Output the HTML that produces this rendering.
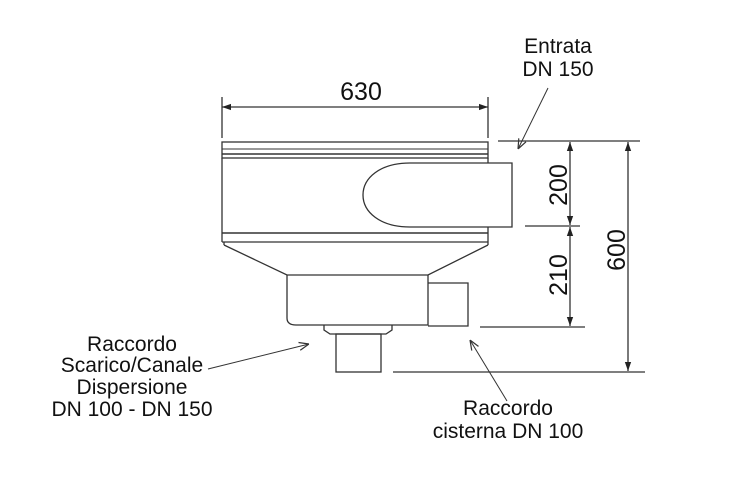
<!DOCTYPE html>
<html><head><meta charset="utf-8"><style>
html,body{margin:0;padding:0;background:#fff;}
svg{display:block;}
text{font-family:"Liberation Sans",Arial,sans-serif;fill:#111;}
</style></head><body>
<svg width="732" height="477" viewBox="0 0 732 477" xmlns="http://www.w3.org/2000/svg">
<defs>
<marker id="ah" viewBox="0 0 10 10" refX="10" refY="5" markerWidth="9" markerHeight="9" orient="auto-start-reverse" markerUnits="userSpaceOnUse"><path d="M0,1.5 L10,5 L0,8.5 Z" fill="#222"/></marker>
<marker id="oa" viewBox="0 0 10 10" refX="10" refY="5" markerWidth="10" markerHeight="10" orient="auto" markerUnits="userSpaceOnUse"><path d="M0,1 L10,5 L0,9" fill="none" stroke="#333" stroke-width="1.2"/></marker>
</defs>
<g stroke="#333" stroke-width="1.3" fill="none">
<line x1="222" y1="97" x2="222" y2="138"/>
<line x1="488" y1="97" x2="488" y2="138"/>
<line x1="222" y1="107" x2="488" y2="107" marker-start="url(#ah)" marker-end="url(#ah)"/>
<rect x="222" y="142" width="266" height="16"/>
<line x1="222" y1="149" x2="488" y2="149" stroke-width="1"/>
<line x1="222" y1="154" x2="488" y2="154" stroke-width="1.6"/>
<line x1="222" y1="158" x2="222" y2="242"/>
<line x1="488" y1="158" x2="488" y2="163"/>
<line x1="488" y1="227" x2="488" y2="242"/>
<line x1="222" y1="233" x2="488" y2="233" stroke-width="1.6"/>
<line x1="222" y1="242" x2="488" y2="242"/>
<path d="M410,163 L512,163 L512,227 L410,227 C380,227 363,212 363,195 C363,178 380,163 410,163 Z"/>
<path d="M224,245 L287,275 L428,275 L488,245"/>
<path d="M224,242 L224,245 M488,242 L488,245"/>
<path d="M287,275 L287,318 Q287,325 296,325 L428,325 L428,275"/>
<path d="M428,283 L468,283 L468,326 L428,326"/>
<path d="M324,325 L324,330 L330,334 L386,334 L392,330 L392,325"/>
<rect x="336" y="334" width="45" height="38"/>
<line x1="498" y1="141" x2="640" y2="141"/>
<line x1="525" y1="226" x2="580" y2="226"/>
<line x1="480" y1="327" x2="585" y2="327"/>
<line x1="393" y1="372" x2="645" y2="372"/>
<line x1="570" y1="142" x2="570" y2="225" marker-start="url(#ah)" marker-end="url(#ah)"/>
<line x1="570" y1="227" x2="570" y2="326" marker-start="url(#ah)" marker-end="url(#ah)"/>
<line x1="628" y1="142" x2="628" y2="371" marker-start="url(#ah)" marker-end="url(#ah)"/>
<line x1="548" y1="88" x2="518" y2="149" stroke-width="1" marker-end="url(#oa)"/>
<line x1="208" y1="369" x2="309" y2="344" stroke-width="1" marker-end="url(#oa)"/>
<line x1="507" y1="401" x2="470" y2="340" stroke-width="1" marker-end="url(#oa)"/>
</g>
<text x="361" y="100" font-size="25" text-anchor="middle">630</text>
<text transform="translate(567,185) rotate(-90)" font-size="25" text-anchor="middle">200</text>
<text transform="translate(567,275) rotate(-90)" font-size="25" text-anchor="middle">210</text>
<text transform="translate(625,250) rotate(-90)" font-size="25" text-anchor="middle">600</text>
<g font-size="21" text-anchor="middle">
<text x="558" y="53">Entrata</text>
<text x="558" y="76">DN 150</text>
<text x="132" y="351">Raccordo</text>
<text x="132" y="372">Scarico/Canale</text>
<text x="132" y="394">Dispersione</text>
<text x="132" y="416">DN 100 - DN 150</text>
<text x="508" y="415">Raccordo</text>
<text x="508" y="438">cisterna DN 100</text>
</g>
</svg>
</body></html>
